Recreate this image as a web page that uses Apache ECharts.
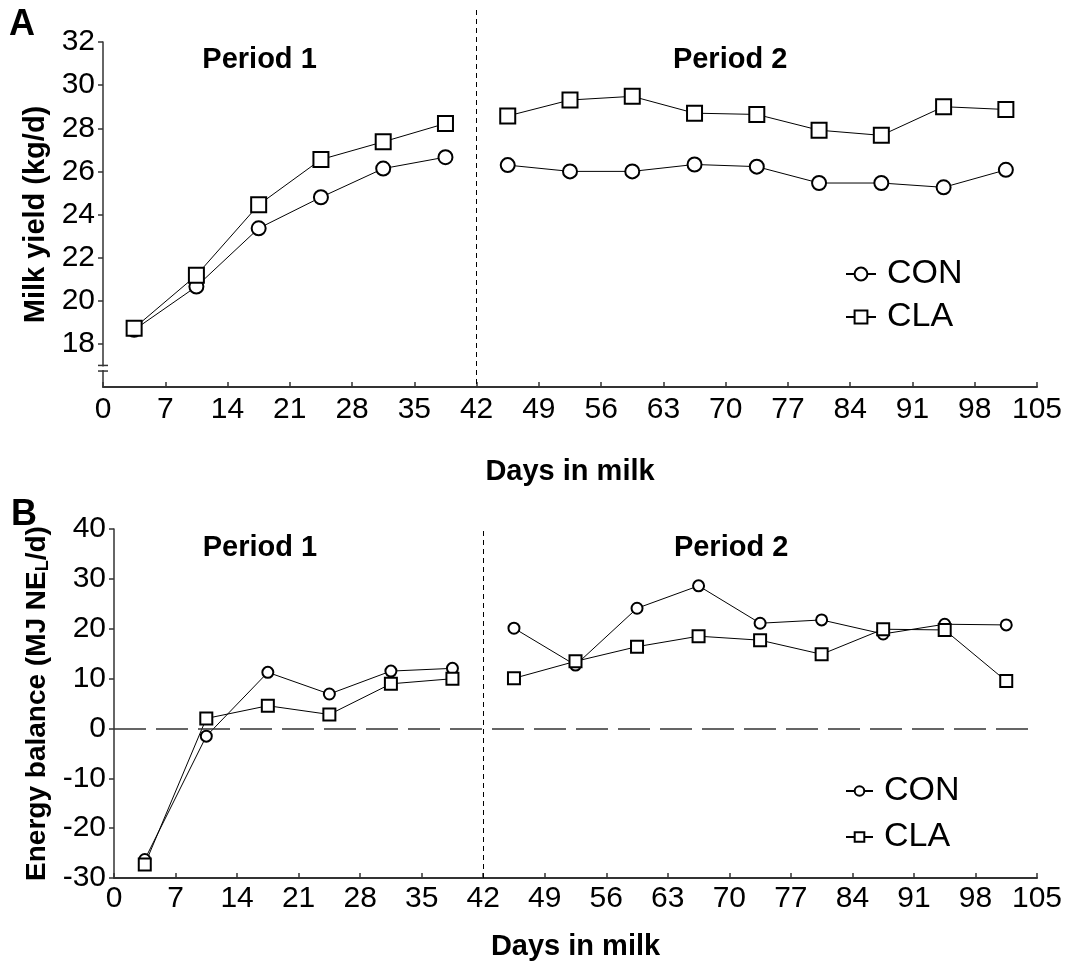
<!DOCTYPE html>
<html>
<head>
<meta charset="utf-8">
<script src="https://cdn.jsdelivr.net/npm/echarts@6/dist/echarts.min.js"></script>
<style>
  html, body { margin: 0; background: #fff; }
  #main { width: 1067px; height: 965px; }
</style>
</head>
<body>
<div id="main"></div>
<script>
// days in milk, period 1 and period 2 (weekly means)
var days1 = [3.5, 10.5, 17.5, 24.5, 31.5, 38.5];
var days2 = [45.5, 52.5, 59.5, 66.5, 73.5, 80.5, 87.5, 94.5, 101.5];
var periodEnd = 42;

// A: milk yield (kg/d)
var milkCON1 = [18.65, 20.66, 23.36, 24.8, 26.13, 26.66];
var milkCLA1 = [18.73, 21.18, 24.45, 26.55, 27.37, 28.22];
var milkCON2 = [26.29, 26.0, 26.0, 26.32, 26.22, 25.46, 25.46, 25.26, 26.07];
var milkCLA2 = [28.57, 29.31, 29.48, 28.7, 28.64, 27.91, 27.67, 29.0, 28.87];

// B: energy balance (MJ NEL/d)
var ebCON1 = [-26.3, -1.55, 11.25, 6.9, 11.5, 12.05];
var ebCLA1 = [-27.3, 2.0, 4.55, 2.8, 8.95, 9.97];
var ebCON2 = [20.1, 12.7, 24.1, 28.6, 21.1, 21.76, 18.95, 20.9, 20.76];
var ebCLA2 = [10.05, 13.46, 16.4, 18.5, 17.7, 14.87, 19.9, 19.75, 9.5];

var milkTicks = [18, 20, 22, 24, 26, 28, 30, 32];
var groups = ['CON', 'CLA'];

var FONT = "'Liberation Sans', Arial, sans-serif";

// join the two periods with a gap so the line breaks at day 42
function joinPeriods(v1, v2) {
  var out = [];
  days1.forEach(function (d, i) { out.push([d, v1[i]]); });
  out.push([periodEnd, '-']);
  days2.forEach(function (d, i) { out.push([d, v2[i]]); });
  return out;
}

function xAxisCfg(idx, margin, gap) {
  return {
    type: 'value', gridIndex: idx, min: 0, max: 105, interval: 7,
    name: 'Days in milk', nameLocation: 'middle', nameGap: gap,
    nameTextStyle: { fontFamily: FONT, fontSize: 29, fontWeight: 'bold', color: '#000' },
    axisLine: { onZero: false, lineStyle: { color: '#333', width: 2 } },
    axisTick: { inside: true, length: 5, lineStyle: { color: '#333', width: 1.5 } },
    axisLabel: { fontFamily: FONT, fontSize: 30, color: '#000', margin: margin },
    splitLine: { show: false }
  };
}

function periodMarks(xy1, xy2) {
  return {
    symbolSize: 0,
    silent: true,
    label: {
      show: true, position: 'inside', fontFamily: FONT, fontSize: 29,
      fontWeight: 'bold', color: '#000', formatter: '{b}'
    },
    data: [
      { name: 'Period 1', coord: xy1 },
      { name: 'Period 2', coord: xy2 }
    ]
  };
}

function lineSeries(name, idx, data, symbol, size, extra) {
  var s = {
    name: name, type: 'line', xAxisIndex: idx, yAxisIndex: idx,
    data: data, symbol: symbol, symbolSize: size, showSymbol: true,
    connectNulls: false, clip: false, silent: true, animation: false,
    lineStyle: { color: '#000', width: 1 },
    itemStyle: { color: '#fff', borderColor: '#000', borderWidth: 2 }
  };
  for (var k in extra) s[k] = extra[k];
  return s;
}

var chart = echarts.init(document.getElementById('main'));

var option = {
  animation: false,
  backgroundColor: '#fff',
  title: [
    { text: 'A', left: 9, top: 7, padding: 0,
      textStyle: { fontFamily: FONT, fontSize: 36, fontWeight: 'bold', color: '#000' } },
    { text: 'B', left: 11, top: 497, padding: 0,
      textStyle: { fontFamily: FONT, fontSize: 36, fontWeight: 'bold', color: '#000' } }
  ],
  legend: [
    { orient: 'vertical', left: 845, top: 257, padding: 0, itemGap: 9,
      itemWidth: 30, itemHeight: 16, data: groups,
      textStyle: { fontFamily: FONT, fontSize: 34, color: '#000', padding: [0, 0, 0, 6] } },
    { orient: 'vertical', left: 845, top: 774, padding: 0, itemGap: 12,
      itemWidth: 27, itemHeight: 12, data: groups,
      textStyle: { fontFamily: FONT, fontSize: 34, color: '#000', padding: [0, 0, 0, 6] } }
  ],
  grid: [
    { left: 103, top: 42, width: 934, height: 345 },
    { left: 114, top: 529, width: 923, height: 349 }
  ],
  xAxis: [xAxisCfg(0, 8, 70), xAxisCfg(1, 6, 54)],
  yAxis: [
    {
      type: 'value', gridIndex: 0, min: 16, max: 32, interval: 2,
      name: 'Milk yield (kg/d)', nameLocation: 'middle', nameGap: 52,
      nameTextStyle: { fontFamily: FONT, fontSize: 29, fontWeight: 'bold', color: '#000' },
      axisLine: { show: true, lineStyle: { color: '#333', width: 1.5 } },
      axisTick: { show: true, length: 5, customValues: milkTicks, lineStyle: { color: '#333', width: 1.5 } },
      axisLabel: { fontFamily: FONT, fontSize: 30, color: '#000', margin: 8, customValues: milkTicks },
      splitLine: { show: false }
    },
    {
      type: 'value', gridIndex: 1, min: -30, max: 40, interval: 10,
      name: '{t|Energy balance (MJ NE}{s|L}{t|/d)}', nameLocation: 'middle', nameGap: 54,
      nameTextStyle: {
        fontFamily: FONT, fontSize: 28, fontWeight: 'bold', color: '#000',
        rich: {
          t: { fontFamily: FONT, fontSize: 28, fontWeight: 'bold', color: '#000', lineHeight: 32, verticalAlign: 'bottom' },
          s: { fontFamily: FONT, fontSize: 18, fontWeight: 'bold', color: '#000', lineHeight: 32, verticalAlign: 'bottom', padding: [10, 0, 0, 0] }
        }
      },
      axisLine: { show: true, lineStyle: { color: '#333', width: 1.5 } },
      axisTick: { show: true, length: 5, lineStyle: { color: '#333', width: 1.5 } },
      axisLabel: { fontFamily: FONT, fontSize: 30, color: '#000', margin: 8 },
      splitLine: { show: false }
    }
  ],
  series: [
    lineSeries('CON', 0, joinPeriods(milkCON1, milkCON2), 'circle', 14, {
      markLine: {
        silent: true, symbol: 'none', label: { show: false },
        lineStyle: { color: '#000', width: 1, type: [5, 4] },
        data: [[{ xAxis: periodEnd, y: 10 }, { xAxis: periodEnd, yAxis: 16 }]]
      },
      markPoint: periodMarks([17.6, 31.15], [70.5, 31.15])
    }),
    lineSeries('CLA', 0, joinPeriods(milkCLA1, milkCLA2), 'rect', 15, {}),
    lineSeries('CON', 1, joinPeriods(ebCON1, ebCON2), 'circle', 11, {
      markLine: {
        silent: true, symbol: 'none', label: { show: false },
        data: [
          { xAxis: periodEnd, lineStyle: { color: '#000', width: 1, type: [5, 4] } },
          { yAxis: 0, lineStyle: { color: '#333', width: 1.5, type: [32, 10] } }
        ]
      },
      markPoint: periodMarks([16.6, 36.2], [70.2, 36.2])
    }),
    lineSeries('CLA', 1, joinPeriods(ebCLA1, ebCLA2), 'rect', 12, {})
  ]
};

chart.setOption(option);

// axis break marks on the milk yield axis (between 16 and 18)
var axX = chart.convertToPixel({ xAxisIndex: 0 }, 0);
var bTop = chart.convertToPixel({ yAxisIndex: 0 }, 17.0);
var bBot = chart.convertToPixel({ yAxisIndex: 0 }, 16.74);
chart.setOption({
  graphic: [
    { type: 'rect', shape: { x: axX - 3, y: bTop + 1, width: 6, height: bBot - bTop - 2 },
      style: { fill: '#fff' }, z: 100 },
    { type: 'line', shape: { x1: axX - 5, y1: bTop, x2: axX + 5, y2: bTop },
      style: { stroke: '#333', lineWidth: 1.5 }, z: 101 },
    { type: 'line', shape: { x1: axX - 5, y1: bBot, x2: axX + 5, y2: bBot },
      style: { stroke: '#333', lineWidth: 1.5 }, z: 101 }
  ]
});
</script>
</body>
</html>
